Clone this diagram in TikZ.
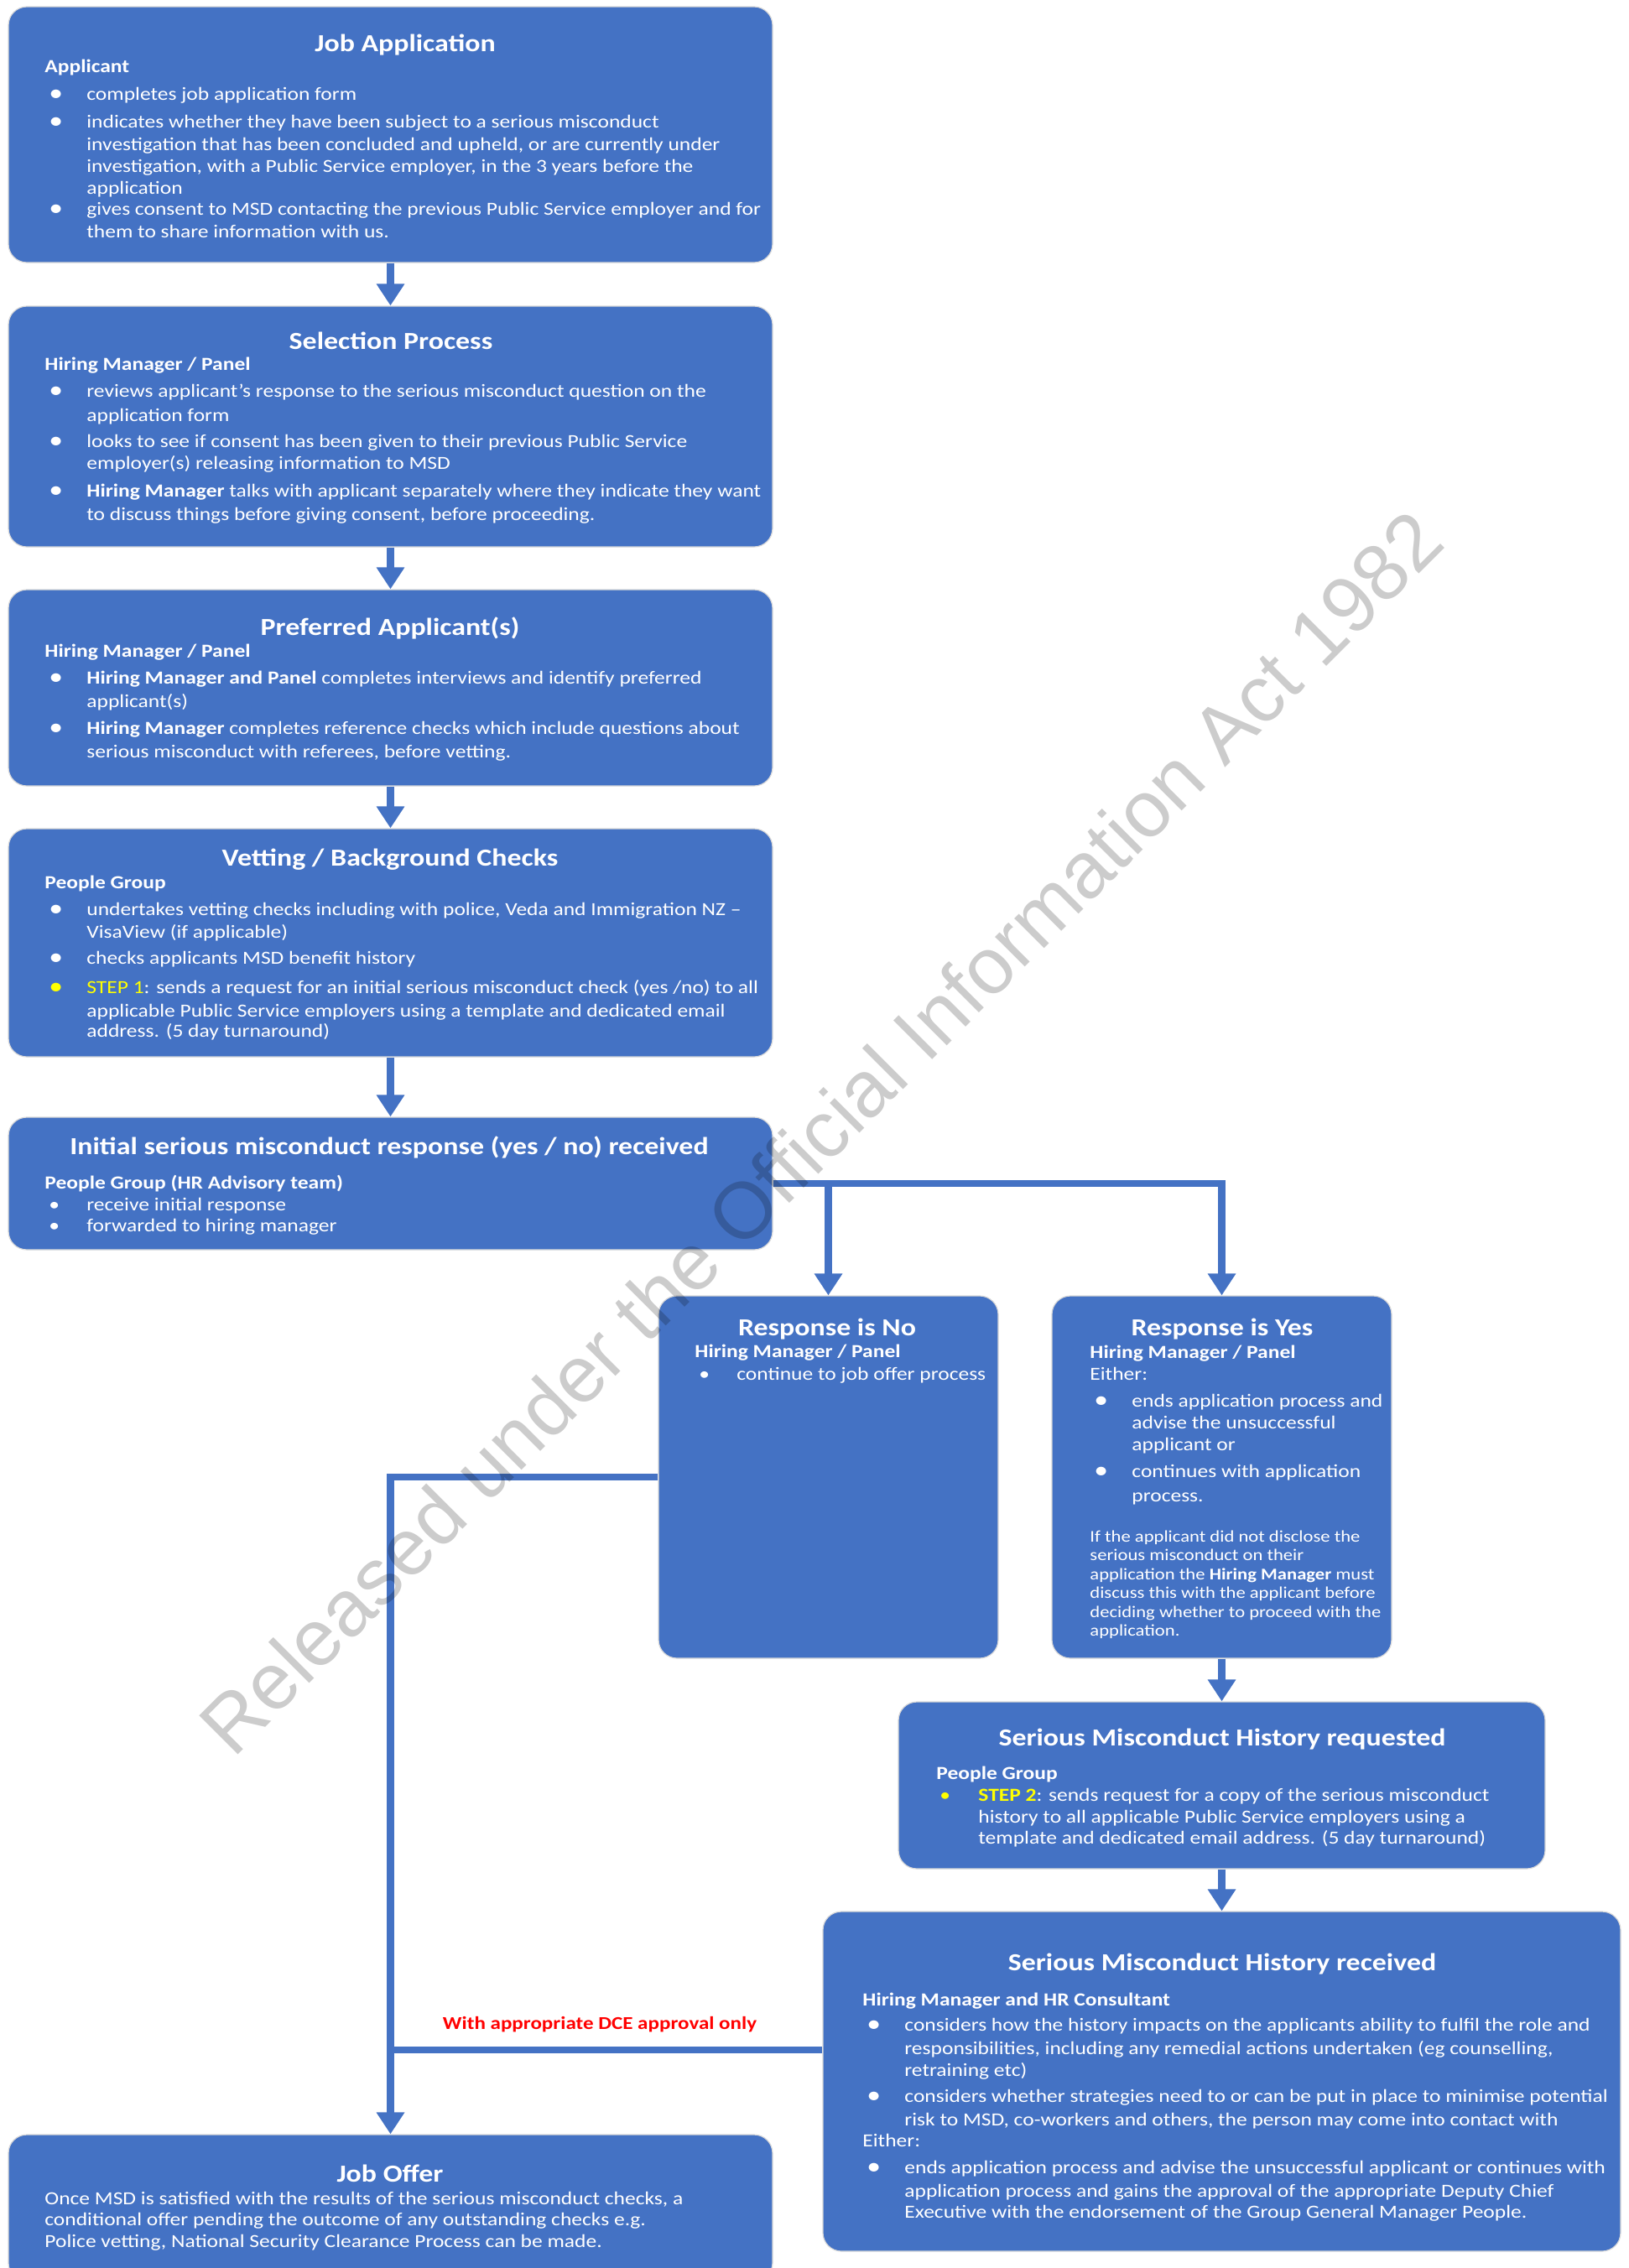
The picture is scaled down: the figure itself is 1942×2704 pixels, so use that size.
\documentclass[tikz,border=0pt]{standalone}
\usepackage{fontspec}
\setmainfont{Carlito}[FakeStretch=1.16]
\newfontfamily\wmfont{Liberation Sans}
\usetikzlibrary{arrows.meta,fit}
\definecolor{boxblue}{RGB}{68,114,196}
\definecolor{stepyellow}{RGB}{255,255,0}
\definecolor{dcered}{RGB}{255,0,0}
\newcommand\bigdot{\raisebox{-0.3pt}{\fontsize{14.5}{13}\selectfont\textbullet}}
\newcommand\bpt{\makebox[25pt][l]{\hspace{2.5pt}\bigdot}}
\newcommand\spt{\makebox[25pt][l]{\hspace{2.5pt}\textbullet}}
\newcommand\ybpt{\makebox[25pt][l]{\hspace{2.5pt}\textcolor{stepyellow}{\bigdot}}}
\newcommand\yspt{\makebox[25pt][l]{\hspace{2pt}\textcolor{stepyellow}{\textbullet}}}
\newcommand\cind{\hspace*{25pt}}
\begin{document}
\begin{tikzpicture}[x=0.5pt,y=-0.5pt,
  box/.style={fill=boxblue, draw=black!15, line width=0.6pt, rounded corners=11pt, inner sep=0pt},
  ttl/.style={text=white, font=\fontsize{14.6}{18}\selectfont\bfseries, anchor=base, inner sep=0pt},
  body/.style={text=white, font=\fontsize{11}{13}\selectfont, align=left, anchor=north west, inner sep=0pt},
  note/.style={text=white, font=\fontsize{9.75}{11.2}\selectfont, align=left, anchor=north west, inner sep=0pt},
  conn/.style={draw=boxblue, line width=4.2pt, -{Triangle[width=16pt,length=13pt]}},
  link/.style={draw=boxblue, line width=4.2pt},
  lbl/.style={text=dcered, font=\fontsize{10.8}{13}\selectfont\bfseries, anchor=base, inner sep=0pt},
  wm/.style={font=\wmfont\fontsize{47.5}{57}\selectfont, text=black, text opacity=0.2, anchor=base, rotate=45, inner sep=0pt}
]
\useasboundingbox (0,0) rectangle (1942,2704);
\fill[white] (0,0) rectangle (1942,2704);

% boxes
\node[box, fit={(10,8) (921,313)}] (b1) {};
\node[box, fit={(10,365) (921,652)}] (b2) {};
\node[box, fit={(10,703) (921,937)}] (b3) {};
\node[box, fit={(10,988) (921,1260)}] (b4) {};
\node[box, fit={(10,1332) (921,1490)}] (b5) {};
\node[box, fit={(785,1545) (1190,1977)}] (no) {};
\node[box, fit={(1254,1545) (1659,1977)}] (yes) {};
\node[box, fit={(1071,2029) (1842,2228)}] (req) {};
\node[box, fit={(981,2279) (1932,2684)}] (rec) {};
\node[box, fit={(10,2545) (921,2720)}] (jo) {};

% titles
\node[ttl] (t1) at (483,61) {Job Application};
\node[ttl] (t2) at (466,416) {Selection Process};
\node[ttl] (t3) at (465,757) {Preferred Applicant(s)};
\node[ttl] (t4) at (465,1032) {Vetting / Background Checks};
\node[ttl] (t5) at (464,1376) {Initial serious misconduct response (yes / no) received};
\node[ttl] (tno) at (986,1592) {Response is No};
\node[ttl] (tyes) at (1457,1592) {Response is Yes};
\node[ttl] (treq) at (1457,2081) {Serious Misconduct History requested};
\node[ttl] (trec) at (1457,2349) {Serious Misconduct History received};
\node[ttl] (tjo) at (465,2601) {Job Offer};

% bodies
\node[body] (c1) at (53,67.8) {\strut{\bfseries Applicant}\\[3.5pt]
\bpt completes job application form\\[3.5pt]
\bpt indicates whether they have been subject to a serious misconduct\\[0.5pt]
\cind investigation that has been concluded and upheld, or are currently under\\
\cind investigation, with a Public Service employer, in the 3 years before the\\
\cind application\\[-0.5pt]
\bpt gives consent to MSD contacting the previous Public Service employer and for\\[0.5pt]
\cind them to share information with us.};

\node[body] (c2) at (53,422.8) {\strut{\bfseries Hiring Manager / Panel}\\[3pt]
\bpt reviews applicant’s response to the serious misconduct question on the\\[1.5pt]
\cind application form\\[2.5pt]
\bpt looks to see if consent has been given to their previous Public Service\\
\cind employer(s) releasing information to MSD\\[3.5pt]
\bpt {\bfseries Hiring Manager} talks with applicant separately where they indicate they want\\[1pt]
\cind to discuss things before giving consent, before proceeding.};

\node[body] (c3) at (53,764.8) {\strut{\bfseries Hiring Manager / Panel}\\[3pt]
\bpt {\bfseries Hiring Manager and Panel} completes interviews and identify preferred\\[1pt]
\cind applicant(s)\\[3pt]
\bpt {\bfseries Hiring Manager} completes reference checks which include questions about\\[1pt]
\cind serious misconduct with referees, before vetting.};

\node[body] (c4) at (53,1040.8) {\strut{\bfseries People Group}\\[3pt]
\bpt undertakes vetting checks including with police, Veda and Immigration NZ –\\[0.5pt]
\cind VisaView (if applicable)\\[2.5pt]
\bpt checks applicants MSD benefit history\\[4.5pt]
\ybpt \textcolor{stepyellow}{STEP 1}: sends a request for an initial serious misconduct check (yes /no) to all\\[1pt]
\cind applicable Public Service employers using a template and dedicated email\\[-1pt]
\cind address. (5 day turnaround)};

\node[body] (c5) at (53,1398.8) {\strut{\bfseries People Group (HR Advisory team)}\\
\spt receive initial response\\[-0.5pt]
\spt forwarded to hiring manager};

\node[body] (cno) at (828,1599.8) {\strut{\bfseries Hiring Manager / Panel}\\[0.5pt]
\spt continue to job offer process};

\node[body] (cyes) at (1299,1600.8) {\strut{\bfseries Hiring Manager / Panel}\\
Either:\\[3pt]
\bpt ends application process and\\
\cind advise the unsuccessful\\
\cind applicant or\\[3pt]
\bpt continues with application\\[1.5pt]
\cind process.};

\node[note] (nyes) at (1299,1822.3) {\strut If the applicant did not disclose the\\
serious misconduct on their\\
application the {\bfseries Hiring Manager} must\\
discuss this with the applicant before\\
deciding whether to proceed with the\\
application.};

\node[body] (creq) at (1116,2102.8) {\strut{\bfseries People Group}\\
\yspt {\bfseries\color{stepyellow}STEP 2}: sends request for a copy of the serious misconduct\\
\cind history to all applicable Public Service employers using a\\[-0.5pt]
\cind template and dedicated email address. (5 day turnaround)};

\node[body] (crec) at (1028,2372.8) {\strut{\bfseries Hiring Manager and HR Consultant}\\[2pt]
\bpt considers how the history impacts on the applicants ability to fulfil the role and\\[1pt]
\cind responsibilities, including any remedial actions undertaken (eg counselling,\\
\cind retraining etc)\\[2.5pt]
\bpt considers whether strategies need to or can be put in place to minimise potential\\[1pt]
\cind risk to MSD, co-workers and others, the person may come into contact with\\[-0.5pt]
Either:\\[3pt]
\bpt ends application process and advise the unsuccessful applicant or continues with\\[1pt]
\cind application process and gains the approval of the appropriate Deputy Chief\\[-0.5pt]
\cind Executive with the endorsement of the Group General Manager People.};

\node[body] (cjo) at (53,2609.8) {\strut Once MSD is satisfied with the results of the serious misconduct checks, a\\[-0.5pt]
conditional offer pending the outcome of any outstanding checks e.g.\\
Police vetting, National Security Clearance Process can be made.};

% connectors
\draw[conn] (b1.south) -- (b2.north);
\draw[conn] (b2.south) -- (b3.north);
\draw[conn] (b3.south) -- (b4.north);
\draw[conn] (b4.south) -- (b5.north);
\coordinate (j1) at (no.north |- b5.east);
\draw[conn] (b5.east) -| (yes.north);
\draw[conn] (j1) -- (no.north);
\draw[conn] (yes.south) -- (req.north);
\draw[conn] (req.south) -- (rec.north);
\draw[conn] (no.west) -| (jo.north);
\path ([yshift=18.75pt]rec.west) coordinate (recw);
\coordinate (j2) at (jo.north |- recw);
\draw[link] (recw) -- (j2);

\node[lbl] (dce) at (715,2419) {With appropriate DCE approval only};

% watermark
\node[wm] (wmk) at (1002,1373.5) {Released under the Official Information Act 1982};
\end{tikzpicture}
\end{document}
